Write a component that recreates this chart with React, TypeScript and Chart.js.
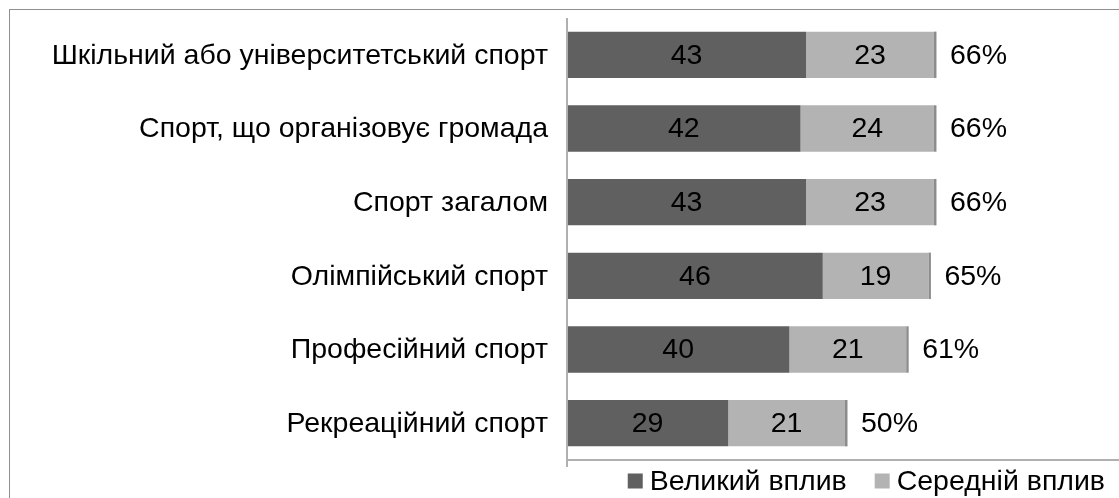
import React, { useEffect, useRef } from "react";
import { Chart, registerables } from "chart.js";

Chart.register(...registerables);

const categories = [
  "Шкільний або університетський спорт",
  "Спорт, що організовує громада",
  "Спорт загалом",
  "Олімпійський спорт",
  "Професійний спорт",
  "Рекреаційний спорт",
];
const strongImpact = [43, 42, 43, 46, 40, 29];
const mediumImpact = [23, 24, 23, 19, 21, 21];
const seriesNames = ["Великий вплив", "Середній вплив"];

const DARK = "#606060";
const LIGHT = "#b3b3b3";
const CAP = "#8c8c8c";
const FONT = "Liberation Sans, Arial, sans-serif";
const FONT_SIZE = 28.5;

const overlayPlugin = {
  id: "overlay",
  afterDraw(chart: any) {
    const { ctx, chartArea, scales } = chart;
    const x = scales.x;
    const y = scales.y;
    ctx.save();

    // outer frame
    ctx.strokeStyle = "#8f8f8f";
    ctx.lineWidth = 1;
    ctx.strokeRect(9.5, 9.5, 1300, 700);

    // axis lines
    ctx.strokeStyle = "#b0b0b0";
    ctx.lineWidth = 2;
    ctx.beginPath();
    ctx.moveTo(chartArea.left, chartArea.top);
    ctx.lineTo(chartArea.left, chartArea.bottom + 7);
    ctx.moveTo(chartArea.left, chartArea.bottom);
    ctx.lineTo(chartArea.right + 10, chartArea.bottom);
    ctx.stroke();

    ctx.font = `${FONT_SIZE}px ${FONT}`;
    ctx.fillStyle = "#000";
    ctx.textBaseline = "middle";

    categories.forEach((cat, i) => {
      const cy = y.getPixelForValue(i) + 1;
      // category label
      ctx.textAlign = "right";
      ctx.fillText(cat, chartArea.left - 19, cy);
      // segment values
      ctx.textAlign = "center";
      const a = strongImpact[i];
      const b = mediumImpact[i];
      ctx.fillText(String(a), (x.getPixelForValue(0) + x.getPixelForValue(a)) / 2, cy);
      ctx.fillText(String(b), (x.getPixelForValue(a) + x.getPixelForValue(a + b)) / 2, cy);
      // total
      ctx.textAlign = "left";
      ctx.fillText(`${a + b}%`, x.getPixelForValue(a + b) + 16, cy);
    });

    // legend, right-aligned along the bottom edge
    const legendY = 481;
    const items = [
      { label: seriesNames[0], color: DARK },
      { label: seriesNames[1], color: LIGHT },
    ];
    let lx = 1105;
    const positions: number[] = [];
    for (let i = items.length - 1; i >= 0; i--) {
      const w = ctx.measureText(items[i].label).width;
      lx -= w;
      positions[i] = lx;
      lx -= 7 + 15 + 28;
    }
    items.forEach((it, i) => {
      const tx = positions[i];
      ctx.fillStyle = it.color;
      ctx.fillRect(tx - 22, legendY - 7.5, 15, 15);
      ctx.fillStyle = "#000";
      ctx.textAlign = "left";
      ctx.fillText(it.label, tx, legendY + 1);
    });

    ctx.restore();
  },
};

export default function App() {
  const ref = useRef<HTMLCanvasElement>(null);

  useEffect(() => {
    if (!ref.current) return;
    const chart = new Chart(ref.current, {
      type: "bar",
      data: {
        labels: categories,
        datasets: [
          {
            label: seriesNames[0],
            data: strongImpact,
            backgroundColor: DARK,
            barPercentage: 0.63,
            categoryPercentage: 1,
          },
          {
            label: seriesNames[1],
            data: mediumImpact,
            backgroundColor: LIGHT,
            barPercentage: 0.63,
            categoryPercentage: 1,
          },
          {
            label: "total",
            data: categories.map(() => 0.45),
            backgroundColor: CAP,
            barPercentage: 0.63,
            categoryPercentage: 1,
          },
        ],
      },
      options: {
        indexAxis: "y",
        animation: false,
        responsive: true,
        maintainAspectRatio: false,
        events: [],
        layout: { padding: { left: 567, right: 2, top: 18, bottom: 38 } },
        plugins: {
          legend: { display: false },
          tooltip: { enabled: false },
        },
        scales: {
          x: { stacked: true, min: 0, max: 100, display: false },
          y: { stacked: true, display: false },
        },
      },
      plugins: [overlayPlugin],
    });
    return () => chart.destroy();
  }, []);

  return (
    <div
      style={{
        position: "absolute",
        left: 0,
        top: 0,
        width: 1119,
        height: 498,
        overflow: "hidden",
        background: "#fff",
      }}
    >
      <div style={{ position: "relative", width: 1125, height: 498 }}>
        <canvas ref={ref} />
      </div>
    </div>
  );
}
